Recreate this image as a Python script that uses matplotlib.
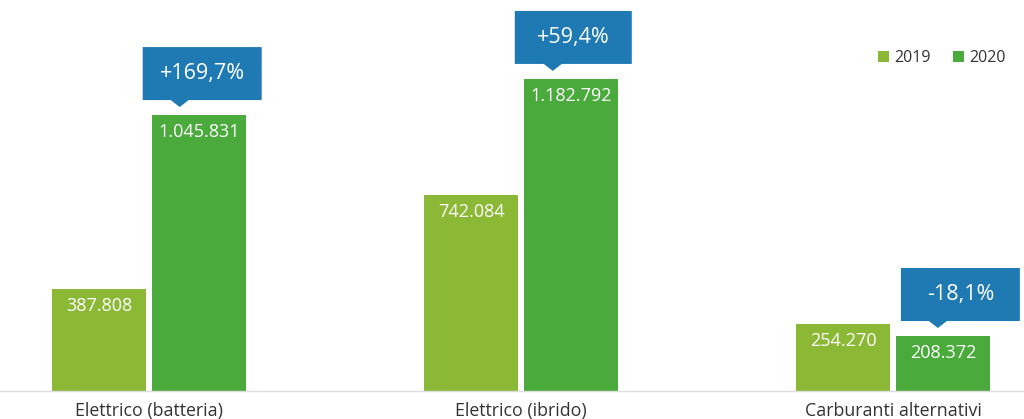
import matplotlib
matplotlib.use("Agg")
import matplotlib.pyplot as plt
from matplotlib import transforms
from matplotlib.patches import Polygon

plt.rcParams["font.family"] = ["Open Sans", "DejaVu Sans"]

categories = ["Elettrico (batteria)", "Elettrico (ibrido)", "Carburanti alternativi"]
years = ["2019", "2020"]
values_2019 = [387808, 742084, 254270]
values_2020 = [1045831, 1182792, 208372]
changes = ["+169,7%", "+59,4%", "-18,1%"]

C2019 = "#8bb935"
C2020 = "#4aaa3b"
BLUE = "#1f7ab4"


def fmt(v):
    return f"{v:,}".replace(",", ".")


fig = plt.figure(figsize=(10.24, 4.19), dpi=100)
ax = fig.add_axes([0, 28 / 419, 1, 391 / 419])
x = range(len(categories))
w, off = 0.253, 0.134
b19 = ax.bar([i - off for i in x], values_2019, w, color=C2019)
b20 = ax.bar([i + off for i in x], values_2020, w, color=C2020)
ax.set_xlim(-0.4, 2.352)
ax.set_ylim(0, 1482000)

for bars in (b19, b20):
    for r in bars:
        ax.annotate(fmt(int(r.get_height())), (r.get_x() + r.get_width() / 2, r.get_height()),
                    xytext=(0, -8), textcoords="offset pixels", ha="center", va="top",
                    color="white", fontsize=13)

# callout boxes above the 2020 bars: (left, right, pointer x) in pixels from bar center
box_px = [(-56, 63, -19), (-56, 61, -18), (-42, 77, -5)]
for r, txt, (l, rr, px) in zip(b20, changes, box_px):
    cx = r.get_x() + r.get_width() / 2
    tr = fig.dpi_scale_trans + transforms.ScaledTranslation(cx, r.get_height(), ax.transData)
    bot, top, tip = 15, 68, 8
    pts = [(l, bot), (px - 9, bot), (px, tip), (px + 9, bot), (rr, bot), (rr, top), (l, top)]
    ax.add_patch(Polygon([(a / 100, b / 100) for a, b in pts], closed=True, transform=tr,
                         color=BLUE, clip_on=False, lw=0))
    ax.text((l + rr) / 200, (bot + top) / 200, txt, transform=tr, ha="center", va="center",
            color="white", fontsize=15.5)

ax.set_xticks(list(x))
ax.set_xticklabels(categories, fontsize=12.8, color="#333333")
ax.tick_params(axis="x", length=0, pad=8)
ax.set_yticks([])
for s in ("top", "right", "left"):
    ax.spines[s].set_visible(False)
ax.spines["bottom"].set_color("#dddddd")
ax.spines["bottom"].set_linewidth(1)

leg = ax.legend([b19, b20], years, loc="upper right", bbox_to_anchor=(0.99, 0.892), ncol=2,
                frameon=False, fontsize=11.5, handlelength=0.65, handleheight=0.65,
                handletextpad=0.35, columnspacing=1.4, borderpad=0)
for t in leg.get_texts():
    t.set_color("#333333")

fig.savefig("out.png", dpi=100)
